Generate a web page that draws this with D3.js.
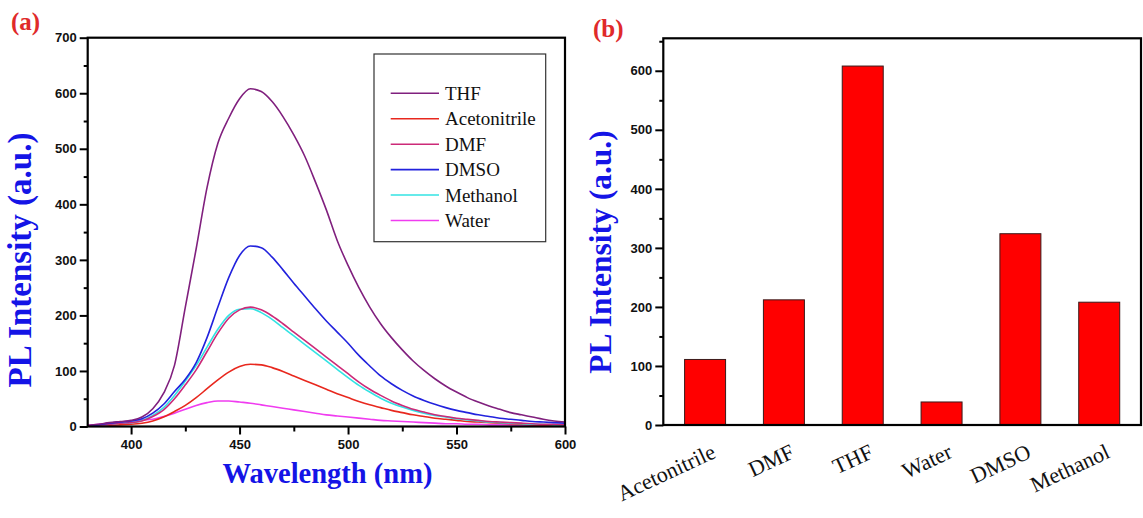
<!DOCTYPE html>
<html><head><meta charset="utf-8">
<script src="https://cdn.jsdelivr.net/npm/d3@7"></script>
<style>
html,body{margin:0;padding:0;background:#fff;}
svg{display:block;}
</style></head>
<body>
<svg id="chart" width="1143" height="518"></svg>
<script>
// ---------- DATA ----------
const wavelengths = d3.range(380, 601, 5); // 380..600 nm, 5 nm step (45 points)
const seriesNames = ["THF", "Acetonitrile", "DMF", "DMSO", "Methanol", "Water"];
const thf = [2,4,7,9,11,17,32,60,110,215,320,430,510,555,590,608,603,585,558,525,487,440,390,335,290,250,215,185,160,138,118,101,86,73,62,52,44,37,31,25,21,17,13,10,8];
const acetonitrile = [0,1,2,3,4,6,10,17,27,38,52,68,84,98,108,112,111,106,99,91,83,75,67,59,52,45,39,34,29,25,21,18,15,13,11,9,8,7,6,5,4,3,3,2,2];
const dmf = [1,2,4,6,7,10,18,30,50,75,102,135,168,195,210,215,210,199,185,170,155,140,125,110,95,80,67,56,46,38,31,26,21,18,15,13,11,9,8,7,6,5,4,4,3];
const dmso = [1,3,6,8,10,14,24,40,63,85,115,160,215,268,308,325,322,305,282,258,235,212,190,170,150,128,109,91,77,65,55,47,40,34,29,25,21,18,15,13,11,9,8,7,6];
const methanol = [1,2,4,6,7,11,20,34,56,82,110,143,175,200,211,212,205,193,178,163,148,133,118,103,88,74,62,51,42,35,29,24,20,17,14,12,10,8,7,6,5,4,4,3,3];
const water = [2,4,6,8,10,12,13,18,24,31,38,43,46,46,44,42,39,36,33,30,27,24,21,19,17,15,13,11,10,9,8,7,6,5,5,4,4,3,3,3,2,2,2,2,1];
const seriesColors = ["#80207e", "#e8281e", "#cc2a78", "#2222dd", "#33e3e3", "#f03cf0"];

const leftXTicks = [400, 450, 500, 550, 600];
const leftYTicks = [0, 100, 200, 300, 400, 500, 600, 700];

const barCategories = ["Acetonitrile", "DMF", "THF", "Water", "DMSO", "Methanol"];
const barValues = [111, 212, 608, 39, 324, 208];
const rightYTicks = [0, 100, 200, 300, 400, 500, 600];

// ---------- SETUP ----------
const svg = d3.select("#chart");
const serif = "'Liberation Serif','Times New Roman',serif";
const sans = "'Liberation Sans',Arial,sans-serif";

// ---------- LEFT PANEL ----------
const L = {x0: 87.7, x1: 565, y0: 426.5, y1: 37.7};
const xL = d3.scaleLinear().domain([380, 600]).range([L.x0, L.x1]);
const yL = d3.scaleLinear().domain([0, 700]).range([L.y0, L.y1]);

const seriesData = [thf, acetonitrile, dmf, dmso, methanol, water];
const line = d3.line().x((d, i) => xL(wavelengths[i])).y(d => yL(d)).curve(d3.curveMonotoneX);

const gL = svg.append("g");
gL.append("defs").append("clipPath").attr("id", "clipL")
  .append("rect").attr("x", L.x0).attr("y", L.y1).attr("width", L.x1 - L.x0).attr("height", L.y0 - L.y1);

const curves = gL.append("g").attr("clip-path", "url(#clipL)");
[5, 1, 4, 2, 3, 0].forEach(k => {
  curves.append("path").datum(seriesData[k])
    .attr("d", line).attr("fill", "none")
    .attr("stroke", seriesColors[k]).attr("stroke-width", 1.6);
});

const xAxisL = d3.axisBottom(xL).tickValues(leftXTicks).tickSize(8).tickPadding(5);
const xMinorL = d3.axisBottom(xL).tickValues([425, 475, 525, 575]).tickSize(5).tickFormat("");
const yAxisL = d3.axisLeft(yL).tickValues(leftYTicks).tickSize(8).tickPadding(3);
const yMinorL = d3.axisLeft(yL).tickValues([50,150,250,350,450,550,650]).tickSize(4).tickFormat("");

function styleAxis(g) {
  g.select(".domain").remove();
  g.selectAll("line").attr("stroke", "#000").attr("stroke-width", 2);
  g.selectAll("text").attr("font-family", sans).attr("font-weight", "bold")
    .attr("font-size", "13px").attr("fill", "#111");
}
gL.append("g").attr("transform", `translate(0,${L.y0})`).call(xAxisL).call(styleAxis);
gL.append("g").attr("transform", `translate(0,${L.y0})`).call(xMinorL).call(styleAxis);
gL.append("g").attr("transform", `translate(${L.x0},0)`).call(yAxisL).call(styleAxis);
gL.append("g").attr("transform", `translate(${L.x0},0)`).call(yMinorL).call(styleAxis);

gL.append("rect").attr("x", L.x0).attr("y", L.y1).attr("width", L.x1 - L.x0).attr("height", L.y0 - L.y1)
  .attr("fill", "none").attr("stroke", "#000").attr("stroke-width", 2.2);

// legend
const leg = gL.append("g");
leg.append("rect").attr("x", 374).attr("y", 54).attr("width", 171.7).attr("height", 187.7)
  .attr("fill", "#fff").attr("stroke", "#333").attr("stroke-width", 1.2);
const legY = d3.scalePoint().domain(seriesNames).range([93.3, 220.5]);
seriesNames.forEach((n, i) => {
  const yy = legY(n);
  leg.append("line").attr("x1", 390.7).attr("x2", 439).attr("y1", yy).attr("y2", yy)
    .attr("stroke", seriesColors[i]).attr("stroke-width", 1.6);
  leg.append("text").attr("x", 445).attr("y", yy + 6.5).text(n)
    .attr("font-family", serif).attr("font-size", "19px").attr("fill", "#111");
});

// axis titles
gL.append("text").attr("x", 327.5).attr("y", 483).attr("text-anchor", "middle")
  .attr("font-family", serif).attr("font-weight", "bold").attr("font-size", "30px")
  .attr("fill", "#1414e6").attr("textLength", 210).attr("lengthAdjust", "spacingAndGlyphs")
  .text("Wavelength (nm)");
gL.append("text").attr("transform", "translate(31,260) rotate(-90)").attr("text-anchor", "middle")
  .attr("font-family", serif).attr("font-weight", "bold").attr("font-size", "33px")
  .attr("fill", "#1414e6").text("PL Intensity (a.u.)");
gL.append("text").attr("x", 11).attr("y", 30).attr("font-family", serif).attr("font-weight", "bold")
  .attr("font-size", "25px").attr("fill", "#e02a2a").text("(a)");

// ---------- RIGHT PANEL ----------
const R = {x0: 663.3, x1: 1141, y0: 425, y1: 38.3};
const xR = d3.scaleBand().domain(barCategories).range([R.x0, R.x1]).paddingInner(0.48).paddingOuter(0.27);
const yR = d3.scaleLinear().domain([0, 655]).range([R.y0, R.y1]);

const gR = svg.append("g");
gR.selectAll("rect.bar").data(barValues).join("rect").attr("class", "bar")
  .attr("x", (d, i) => xR(barCategories[i])).attr("width", xR.bandwidth())
  .attr("y", d => yR(d)).attr("height", d => yR(0) - yR(d))
  .attr("fill", "#ff0000").attr("stroke", "#3a1a1a").attr("stroke-width", 1);

const yAxisR = d3.axisLeft(yR).tickValues(rightYTicks).tickSize(8).tickPadding(3);
const yMinorR = d3.axisLeft(yR).tickValues([50,150,250,350,450,550,650]).tickSize(4).tickFormat("");
gR.append("g").attr("transform", `translate(${R.x0},0)`).call(yAxisR).call(styleAxis);
gR.append("g").attr("transform", `translate(${R.x0},0)`).call(yMinorR).call(styleAxis);

gR.append("rect").attr("x", R.x0).attr("y", R.y1).attr("width", R.x1 - R.x0).attr("height", R.y0 - R.y1)
  .attr("fill", "none").attr("stroke", "#000").attr("stroke-width", 2.2);

// category labels
barCategories.forEach(c => {
  const cx = xR(c) + xR.bandwidth() / 2;
  gR.append("text").attr("transform", `translate(${cx + 12},${R.y0 + 32}) rotate(-25)`)
    .attr("text-anchor", "end").attr("font-family", serif).attr("font-size", "22px")
    .attr("fill", "#111").text(c);
});

gR.append("text").attr("transform", "translate(611,252) rotate(-90)").attr("text-anchor", "middle")
  .attr("font-family", serif).attr("font-weight", "bold").attr("font-size", "31.5px")
  .attr("fill", "#1414e6").text("PL Intensity (a.u.)");
gR.append("text").attr("x", 593).attr("y", 37).attr("font-family", serif).attr("font-weight", "bold")
  .attr("font-size", "25px").attr("fill", "#e02a2a").text("(b)");
</script>
</body></html>
